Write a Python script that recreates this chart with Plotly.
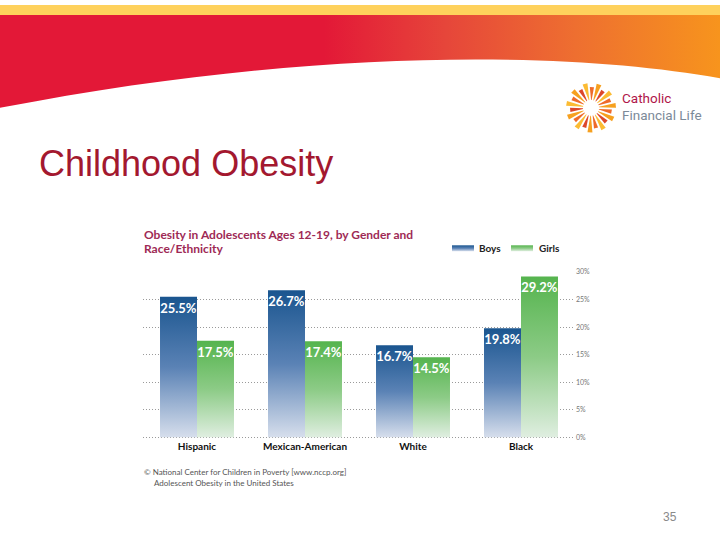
import math
import plotly.graph_objects as go

# ---------------- data ----------------
categories = ["Hispanic", "Mexican-American", "White", "Black"]
boys = [25.5, 26.7, 16.7, 19.8]
girls = [17.5, 17.4, 14.5, 29.2]
tick_vals = [0, 5, 10, 15, 20, 25, 30]
tick_text = ["0%", "5%", "10%", "15%", "20%", "25%", "30%"]

W, H = 720, 540
def px(x):
    return x / W
def py(y):
    return 1 - y / H

BOYS_C = "rgb(30, 90, 150)"
GIRLS_C = "rgb(90, 180, 80)"
HEAD_C = "rgb(227, 24, 55)"
CHART_FONT = "Lato, 'Open Sans', sans-serif"

fig = go.Figure()
fig.add_trace(go.Bar(
    x=categories, y=boys, name="Boys", marker=dict(color=BOYS_C, line=dict(width=0)),
    text=[f"{v:.1f}%" for v in boys], textposition="inside", insidetextanchor="end",
    constraintext="none", textangle=0, cliponaxis=False,
    textfont=dict(family=CHART_FONT, size=13, color="white", weight="bold"),
))
fig.add_trace(go.Bar(
    x=categories, y=girls, name="Girls", marker=dict(color=GIRLS_C, line=dict(width=0)),
    text=[f"{v:.1f}%" for v in girls], textposition="inside", insidetextanchor="end",
    constraintext="none", textangle=0, cliponaxis=False,
    textfont=dict(family=CHART_FONT, size=13, color="white", weight="bold"),
))

shapes = []
# header: yellow stripe
shapes.append(dict(type="rect", xref="paper", yref="paper", x0=0, x1=1, y0=py(11), y1=1,
                   fillcolor="rgb(254, 209, 92)", line=dict(width=0), layer="below"))
# header: red/orange swoosh
p = (f"M {px(0)},{py(10)} L {px(720)},{py(10)} L {px(720)},{py(74)} "
     f"C {px(560)},{py(45)} {px(300)},{py(45)} {px(0)},{py(104)} Z")
shapes.append(dict(type="path", xref="paper", yref="paper", path=p,
                   fillcolor=HEAD_C, line=dict(width=0), layer="below"))

# logo sunburst (decoration)
cx, cy = 591, 104
ray_cols = ["#F6A01F", "#EE6A2A", "#FBBB33", "#DC472B"]
nr = 22
for i in range(nr):
    a = 2 * math.pi * i / nr + 0.1
    r0 = 8
    r1 = 25 if i % 2 == 0 else 21
    w0, w1 = 0.035, 0.10
    pts = [
        (cx + r0 * math.cos(a - w0), cy - r0 * math.sin(a - w0)),
        (cx + r1 * math.cos(a - w1), cy - r1 * math.sin(a - w1)),
        (cx + r1 * math.cos(a + w1), cy - r1 * math.sin(a + w1)),
        (cx + r0 * math.cos(a + w0), cy - r0 * math.sin(a + w0)),
    ]
    path = "M " + " L ".join(f"{px(x)},{py(y)}" for x, y in pts) + " Z"
    shapes.append(dict(type="path", xref="paper", yref="paper", path=path,
                       fillcolor=ray_cols[i % 4], line=dict(width=0), layer="above"))

# legend swatches
shapes.append(dict(type="rect", xref="paper", yref="paper", x0=px(452), x1=px(474),
                   y0=py(249), y1=py(243), fillcolor=BOYS_C, line=dict(width=0)))
shapes.append(dict(type="rect", xref="paper", yref="paper", x0=px(511), x1=px(533),
                   y0=py(249), y1=py(243), fillcolor=GIRLS_C, line=dict(width=0)))

ann = []
def text(x, y, s, size, color, family="Liberation Sans, Arial, sans-serif", xanchor="left", weight="normal"):
    ann.append(dict(xref="paper", yref="paper", x=px(x), y=py(y), text=s, showarrow=False,
                    xanchor=xanchor, yanchor="middle",
                    font=dict(family=family, size=size, color=color, weight=weight)))

text(37, 160, "Childhood Obesity", 36, "#A3182F")
text(620, 94, "Catholic", 13.5, "#B0164A", family="'Liberation Sans Narrow', Roboto, sans-serif")
text(620, 111, "Financial Life", 13.5, "#7C8A99", family="'Liberation Sans Narrow', Roboto, sans-serif")
text(142, 232, "Obesity in Adolescents Ages 12-19, by Gender and", 12, "#9E2A55", family=CHART_FONT, weight="bold")
text(142, 246, "Race/Ethnicity", 12, "#9E2A55", family=CHART_FONT, weight="bold")
text(477, 246, "Boys", 10, "#222", family=CHART_FONT, weight="bold")
text(537, 246, "Girls", 10, "#222", family=CHART_FONT, weight="bold")
text(142, 472, "© National Center for Children in Poverty [www.nccp.org]", 8, "#555", family=CHART_FONT)
text(152, 483, "Adolescent Obesity in the United States", 8, "#555", family=CHART_FONT)
text(670, 518, "35", 12, "#8A8A8A", xanchor="center")

Y0_PAD = 0.4
fig.update_layout(
    width=W, height=H, margin=dict(l=0, r=0, t=0, b=0),
    paper_bgcolor="white", plot_bgcolor="rgba(0,0,0,0)",
    barmode="group", bargap=0.315, bargroupgap=0,
    showlegend=False, shapes=shapes, annotations=ann,
    xaxis=dict(domain=[px(143), px(575)], showgrid=False, zeroline=False, showline=False,
               ticks="", tickfont=dict(family=CHART_FONT, size=10, color="#111", weight="bold")),
    yaxis=dict(domain=[py(437 + Y0_PAD * 167 / 30), py(270)], range=[-Y0_PAD, 30], side="right",
               tickvals=tick_vals, ticktext=tick_text, showgrid=True,
               gridcolor="#9a9a9a", griddash="1px,2px", gridwidth=1, zeroline=False,
               showline=False, ticks="",
               tickfont=dict(family=CHART_FONT, size=7, color="#777")),
    hovermode=False,
)

post = """
document.body.style.margin = '0';
document.body.style.padding = '0';
var gd = document.getElementById('{plot_id}');
var NS = 'http://www.w3.org/2000/svg';
var svg = gd.querySelector('svg.main-svg');
var defs = svg.querySelector('defs');
if (!defs) { defs = document.createElementNS(NS, 'defs'); svg.insertBefore(defs, svg.firstChild); }
function grad(id, stops, horiz) {
  var g = document.createElementNS(NS, 'linearGradient');
  g.setAttribute('id', id);
  g.setAttribute('x1', '0'); g.setAttribute('y1', '0');
  g.setAttribute('x2', horiz ? '1' : '0'); g.setAttribute('y2', horiz ? '0' : '1');
  stops.forEach(function (s) {
    var st = document.createElementNS(NS, 'stop');
    st.setAttribute('offset', s[0]); st.setAttribute('stop-color', s[1]);
    g.appendChild(st);
  });
  defs.appendChild(g);
}
grad('gBoys', [[0, '#1a558f'], [0.5, '#5a82b5'], [1, '#d6deec']], false);
grad('gGirls', [[0, '#55b44e'], [0.5, '#8ccb86'], [1, '#dfeee0']], false);
grad('gHead', [[0, '#e31837'], [0.45, '#e31837'], [0.62, '#e6463a'], [0.8, '#ee6f30'], [1, '#f7941d']], true);
var map = {'rgb(30, 90, 150)': 'gBoys', 'rgb(90, 180, 80)': 'gGirls', 'rgb(227, 24, 55)': 'gHead'};
gd.querySelectorAll('path').forEach(function (p) {
  var f = p.style.fill;
  if (map[f]) { p.style.fill = 'url(#' + map[f] + ')'; }
});
"""

fig.write_html("out.html", post_script=post, config={"displayModeBar": False, "staticPlot": True})
